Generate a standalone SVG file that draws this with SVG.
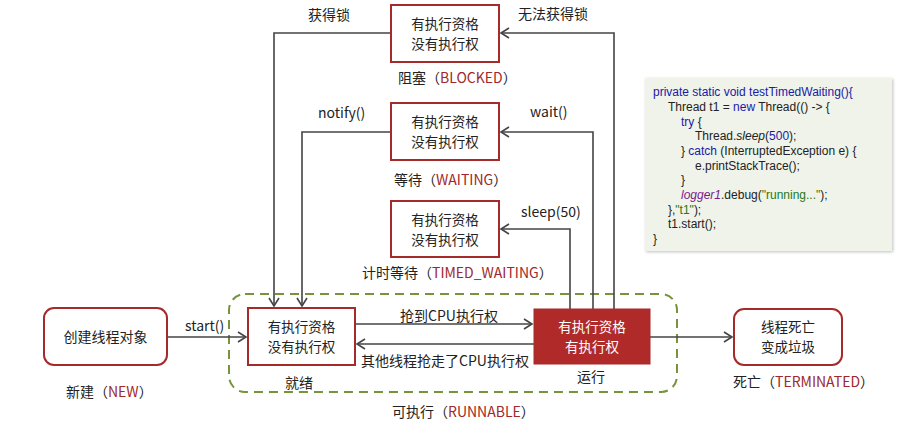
<svg xmlns="http://www.w3.org/2000/svg" width="907" height="433" viewBox="0 0 907 433">
<defs>
<style>
.t{font-family:"Microsoft YaHei","Noto Sans CJK SC","Noto Sans",sans-serif;font-size:14px;fill:#222}
.b{font-family:"Microsoft YaHei","Noto Sans CJK SC","Noto Sans",sans-serif;font-size:13.5px;fill:#222;text-anchor:middle}
.r{fill:#A0282A}
.box{fill:#fff;stroke:#A52A2A;stroke-width:2}
.c{stroke:#444;stroke-width:1.6;fill:none;marker-end:url(#arr)}
.code{font-family:"Liberation Sans",Arial,sans-serif;font-size:12px;fill:#222}
.kw{fill:#1a1aa6}
.str{fill:#1d7a1d}
</style>
<marker id="arr" markerUnits="userSpaceOnUse" markerWidth="12" markerHeight="12" refX="9" refY="6" orient="auto">
<path d="M1,1 L9,6 L1,11" fill="none" stroke="#444" stroke-width="1.6"/>
</marker>
<filter id="sh" x="-5%" y="-5%" width="110%" height="110%">
<feDropShadow dx="1" dy="1" stdDeviation="1.5" flood-color="#000" flood-opacity="0.25"/>
</filter>
</defs>
<rect width="907" height="433" fill="#fff"/>

<g id="runnable-group">
<rect x="229" y="294" width="448" height="98" rx="16" fill="none" stroke="#77933C" stroke-width="2" stroke-dasharray="9,6"/>
<text class="t" x="392" y="417">可执行（<tspan class="r">RUNNABLE</tspan>）</text>
</g>

<g id="connectors">
<path class="c" d="M391,33 H274 V306"/>
<path class="c" d="M614,309 V33 H501"/>
<path class="c" d="M391,132 H302 V306"/>
<path class="c" d="M593,309 V132 H501"/>
<path class="c" d="M570,309 V229 H501"/>
<path class="c" d="M167,337 H246"/>
<path class="c" d="M355,324 H532"/>
<path class="c" d="M534,344 H357"/>
<path class="c" d="M650,337 H732"/>
<text class="t" x="308" y="20">获得锁</text>
<text class="t" x="518" y="19">无法获得锁</text>
<text class="t" x="318" y="118">notify()</text>
<text class="t" x="530" y="117">wait()</text>
<text class="t" x="521" y="217">sleep(50)</text>
<text class="t" x="185" y="331">start()</text>
<text class="t" x="400" y="321">抢到CPU执行权</text>
<text class="t" x="361" y="366">其他线程抢走了CPU执行权</text>
</g>

<g id="blocked">
<rect class="box" x="391" y="5" width="108" height="57"/>
<text class="b" x="445" y="29">有执行资格</text>
<text class="b" x="445" y="48.6">没有执行权</text>
<text class="t" x="398" y="83">阻塞（<tspan class="r">BLOCKED</tspan>）</text>
</g>

<g id="waiting">
<rect class="box" x="391" y="103" width="108" height="57"/>
<text class="b" x="445" y="127">有执行资格</text>
<text class="b" x="445" y="146.6">没有执行权</text>
<text class="t" x="394" y="185">等待（<tspan class="r">WAITING</tspan>）</text>
</g>

<g id="timed-waiting">
<rect class="box" x="391" y="201" width="108" height="56"/>
<text class="b" x="445" y="225">有执行资格</text>
<text class="b" x="445" y="244.6">没有执行权</text>
<text class="t" x="362" y="278">计时等待（<tspan class="r">TIMED_WAITING</tspan>）</text>
</g>

<g id="new">
<rect class="box" x="44" y="308" width="123" height="57" rx="10"/>
<text class="t" x="105.5" y="342" text-anchor="middle">创建线程对象</text>
<text class="t" x="66" y="397">新建（<tspan class="r">NEW</tspan>）</text>
</g>

<g id="ready">
<rect class="box" x="248" y="308" width="107" height="57"/>
<text class="b" x="301.5" y="332">有执行资格</text>
<text class="b" x="301.5" y="351.6">没有执行权</text>
<text class="t" x="285" y="388">就绪</text>
</g>

<g id="running">
<rect x="534" y="309" width="116" height="55" fill="#B02A2A" stroke="#A52A2A" stroke-width="1"/>
<text class="b" x="592" y="332" style="fill:#fff">有执行资格</text>
<text class="b" x="592" y="351.6" style="fill:#fff">有执行权</text>
<text class="t" x="577" y="382">运行</text>
</g>

<g id="terminated">
<rect class="box" x="734" y="309" width="108" height="56" rx="10"/>
<text class="b" x="788" y="332">线程死亡</text>
<text class="b" x="788" y="351.6">变成垃圾</text>
<text class="t" x="733" y="387">死亡（<tspan class="r">TERMINATED</tspan>）</text>
</g>

<g id="code">
<rect x="645" y="78" width="247" height="173" fill="#EFF3EA" filter="url(#sh)"/>
<text class="code" x="653" y="96"><tspan class="kw">private static void testTimedWaiting(){</tspan></text>
<text class="code" x="668" y="111">Thread t1 = <tspan class="kw">new</tspan> Thread(() -&gt; {</text>
<text class="code" x="681" y="126"><tspan class="kw">try</tspan> {</text>
<text class="code" x="695" y="140">Thread.<tspan font-style="italic">sleep</tspan>(<tspan class="kw">500</tspan>);</text>
<text class="code" x="681" y="155">} <tspan class="kw">catch</tspan> (InterruptedException e) {</text>
<text class="code" x="695" y="170">e.printStackTrace();</text>
<text class="code" x="681" y="184">}</text>
<text class="code" x="681" y="199"><tspan font-style="italic" fill="#7a1a8a">logger1</tspan>.debug(<tspan class="str">"running..."</tspan>);</text>
<text class="code" x="668" y="214">},<tspan class="str">"t1"</tspan>);</text>
<text class="code" x="668" y="228">t1.start();</text>
<text class="code" x="653" y="243">}</text>
</g>
</svg>
